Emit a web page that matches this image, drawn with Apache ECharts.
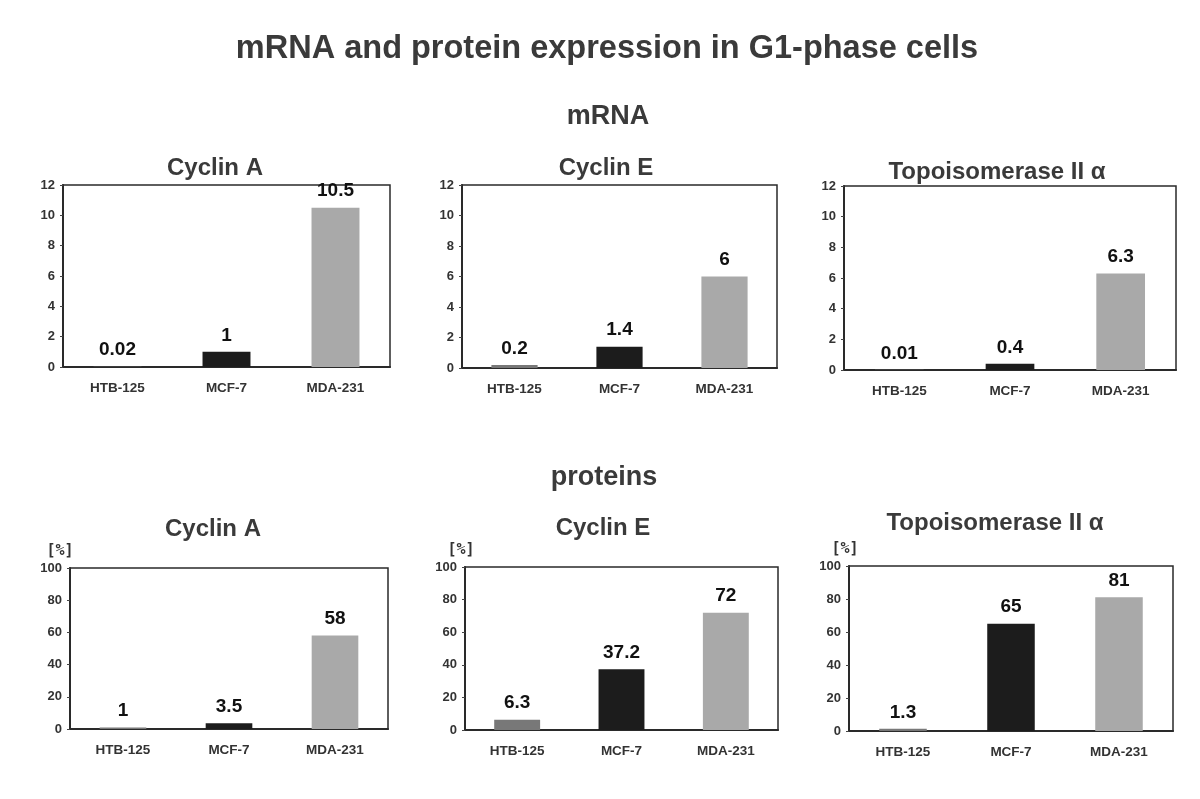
<!DOCTYPE html>
<html>
<head>
<meta charset="utf-8">
<script src="https://cdn.jsdelivr.net/npm/echarts@6/dist/echarts.min.js"></script>
<style>html,body{margin:0;padding:0;background:#fff}#c{width:1200px;height:799px}</style>
</head>
<body>
<div id="c"></div>
<script>
const categories = ['HTB-125', 'MCF-7', 'MDA-231'];
const panelTitles = ['Cyclin A', 'Cyclin E', 'Topoisomerase II \u03b1'];
const mrnaCyclinA = [0.02, 1, 10.5];
const mrnaCyclinE = [0.2, 1.4, 6];
const mrnaTopo = [0.01, 0.4, 6.3];
const protCyclinA = [1, 3.5, 58];
const protCyclinE = [6.3, 37.2, 72];
const protTopo = [1.3, 65, 81];
const mrnaTicks = [0, 2, 4, 6, 8, 10, 12];
const protTicks = [0, 20, 40, 60, 80, 100];

const barColors = ['#787878', '#1c1c1c', '#a9a9a9'];
const FONT = '"Liberation Sans", Arial, sans-serif';

const grids = [
  {left: 63, top: 185, width: 327, height: 182},
  {left: 462, top: 185, width: 315, height: 183},
  {left: 844, top: 186, width: 332, height: 184},
  {left: 70, top: 568, width: 318, height: 161},
  {left: 465, top: 567, width: 313, height: 163},
  {left: 849, top: 566, width: 324, height: 165}
];
const titleCenters = [215, 606, 997, 213, 603, 995];
const titleTops = [156, 156, 160, 517, 516, 511];
const pctShift = [0, 0, 0, 20, 8, 8];
const panelData = [mrnaCyclinA, mrnaCyclinE, mrnaTopo, protCyclinA, protCyclinE, protTopo];

const option = {
  backgroundColor: '#fff',
  animation: false,
  title: [
    {text: 'mRNA and protein expression in G1-phase cells', left: 607, textAlign: 'center', top: 33, padding: 0,
     textStyle: {fontFamily: FONT, fontWeight: 'bold', fontSize: 32.5, color: '#3a3a3a'}},
    {text: 'mRNA', left: 608, textAlign: 'center', top: 103, padding: 0,
     textStyle: {fontFamily: FONT, fontWeight: 'bold', fontSize: 27, color: '#3a3a3a'}},
    {text: 'proteins', left: 604, textAlign: 'center', top: 464, padding: 0,
     textStyle: {fontFamily: FONT, fontWeight: 'bold', fontSize: 27, color: '#3a3a3a'}}
  ],
  grid: grids.map(g => Object.assign({show: true, borderColor: '#2a2a2a', borderWidth: 1.5, backgroundColor: 'transparent'}, g)),
  xAxis: grids.map((g, i) => ({
    type: 'category', gridIndex: i, data: categories,
    axisLine: {lineStyle: {color: '#2a2a2a', width: 2}},
    axisTick: {show: false},
    axisLabel: {fontFamily: FONT, fontWeight: 'bold', fontSize: 13.5, color: '#333', margin: 14}
  })),
  yAxis: grids.map((g, i) => {
    const ticks = i < 3 ? mrnaTicks : protTicks;
    return {
      type: 'value', gridIndex: i, min: ticks[0], max: ticks[ticks.length - 1],
      interval: ticks[1] - ticks[0],
      splitLine: {show: false},
      axisLine: {show: true, lineStyle: {color: '#2a2a2a', width: 2}},
      axisTick: {show: true, length: 3, lineStyle: {color: '#444'}},
      axisLabel: {fontFamily: FONT, fontWeight: 'bold', fontSize: 13, color: '#333', margin: 8},
      name: i < 3 ? '' : '[%]',
      nameLocation: 'end', nameGap: 17,
      nameTextStyle: {fontFamily: '"DejaVu Sans Mono", monospace', fontWeight: 'bold', fontSize: 15, color: '#333',
        align: 'center', verticalAlign: 'middle', padding: [0, pctShift[i], 0, 0]}
    };
  }),
  series: panelData.map((vals, i) => ({
    type: 'bar', xAxisIndex: i, yAxisIndex: i, barWidth: '44%',
    data: vals.map((v, j) => ({value: v, itemStyle: {color: barColors[j]}})),
    label: {show: true, position: 'top', distance: 7, fontFamily: FONT, fontWeight: 'bold', fontSize: 19, color: '#111'}
  }))
};
grids.forEach((g, i) => {
  option.title.push({
    text: panelTitles[i % 3], left: titleCenters[i], textAlign: 'center', top: titleTops[i], padding: 0,
    textStyle: {fontFamily: FONT, fontWeight: 'bold', fontSize: 24, color: '#3a3a3a'}
  });
});
const chart = echarts.init(document.getElementById('c'), null, {renderer: 'canvas'});
chart.setOption(option);
</script>
</body>
</html>
